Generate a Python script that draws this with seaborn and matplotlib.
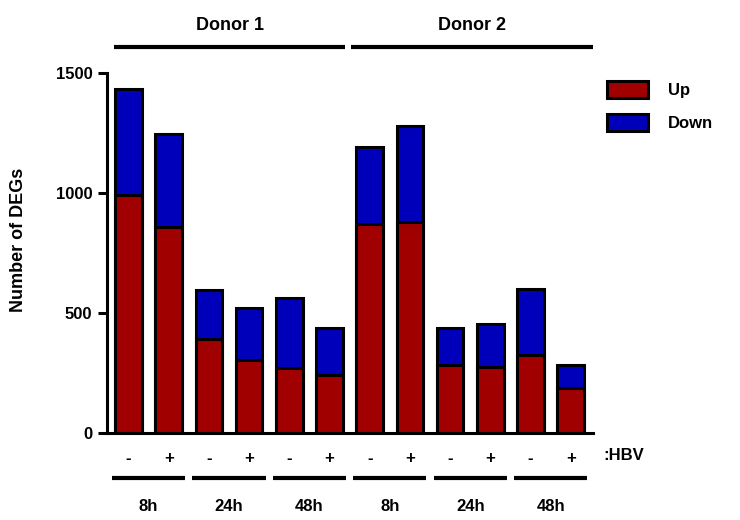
import matplotlib
matplotlib.use("Agg")
import matplotlib.pyplot as plt
import matplotlib.transforms as mtransforms
from matplotlib.patches import Patch
import pandas as pd
import seaborn as sns

# Differentially expressed genes per sample
donors = ["Donor 1", "Donor 2"]
timepoints = ["8h", "24h", "48h"]
hbv = ["-", "+"]
up_counts = [990, 860, 390, 304, 270, 242, 870, 880, 283, 274, 325, 186]
down_counts = [443, 386, 207, 215, 291, 196, 320, 400, 153, 180, 275, 99]

RED = "#a00000"
BLUE = "#0000bb"
FONT = ["Liberation Sans", "DejaVu Sans"]
FS = 12

sns.set_theme(style="ticks")
plt.rcParams["font.family"] = FONT
plt.rcParams["font.weight"] = "bold"
plt.rcParams["text.color"] = "black"

sample_ids = [f"{d}|{t}|{h}" for d in donors for t in timepoints for h in hbv]
df = pd.DataFrame({
    "sample": sample_ids,
    "up": up_counts,
    "total": [u + d for u, d in zip(up_counts, down_counts)],
})

fig = plt.figure(figsize=(7.4, 5.2), dpi=100)
ax = fig.add_axes([107 / 740, 87 / 520, 486 / 740, 360 / 520])

lw = 2.2
sns.barplot(data=df, x="sample", y="total", order=sample_ids, color=BLUE,
            saturation=1, width=0.66, edgecolor="black", linewidth=lw, ax=ax)
sns.barplot(data=df, x="sample", y="up", order=sample_ids, color=RED,
            saturation=1, width=0.66, edgecolor="black", linewidth=lw, ax=ax)

ax.set_xlim(-0.535, 11.555)
ax.set_ylim(0, 1500)
ax.set_yticks([0, 500, 1000, 1500])
ax.set_xlabel("")
ax.set_ylabel("")
sns.despine(ax=ax)
for side in ("left", "bottom"):
    ax.spines[side].set_linewidth(lw)
    ax.spines[side].set_color("black")

ax.tick_params(axis="y", direction="out", length=6.5, width=lw, pad=4,
               labelsize=FS, colors="black")
ax.tick_params(axis="x", length=0, pad=13, labelsize=FS, colors="black")
ax.set_xticks(range(len(sample_ids)))
ax.set_xticklabels([s.split("|")[2] for s in sample_ids])
for lab in ax.get_xticklabels() + ax.get_yticklabels():
    lab.set_fontweight("bold")

# Time-point group bars and labels under the HBV row
trans = mtransforms.blended_transform_factory(ax.transData, ax.transAxes)
for g in range(len(donors) * len(timepoints)):
    first = 2 * g
    ax.plot([first - 0.41, first + 1.41], [-0.125, -0.125], color="black",
            lw=3, solid_capstyle="butt", transform=trans, clip_on=False)
    ax.text(first + 0.5, -0.205, timepoints[g % len(timepoints)],
            transform=trans, ha="center", va="center", fontsize=FS,
            fontweight="bold", color="black")

# Donor brackets above the plot
donor_spans = [(-0.36, 5.39), (5.54, 11.555)]
for name, (x0, x1) in zip(donors, donor_spans):
    ax.plot([x0, x1], [1.072, 1.072], color="black", lw=3,
            solid_capstyle="butt", transform=trans, clip_on=False)
    ax.text((x0 + x1) / 2, 1.133, name, transform=trans, ha="center",
            va="center", fontsize=13, fontweight="bold", color="black")

fig.text(603 / 740, 1 - 456 / 520, ":HBV", ha="left", va="center",
         fontsize=FS, fontweight="bold", color="black")
fig.text(19 / 740, 1 - 240 / 520, "Number of DEGs", rotation=90,
         ha="center", va="center", fontsize=13, fontweight="bold",
         color="black")

handles = [Patch(facecolor=RED, edgecolor="black", linewidth=lw, label="Up"),
           Patch(facecolor=BLUE, edgecolor="black", linewidth=lw, label="Down")]
leg = fig.legend(handles=handles, loc="upper left",
                 bbox_to_anchor=(607 / 740, 1 - 81 / 520), frameon=False,
                 prop={"family": FONT, "weight": "bold", "size": FS},
                 handlelength=2.45, handleheight=1.2, handletextpad=1.2,
                 labelspacing=0.95, borderpad=0, borderaxespad=0)
for t in leg.get_texts():
    t.set_color("black")

fig.savefig("out.png", dpi=100)
